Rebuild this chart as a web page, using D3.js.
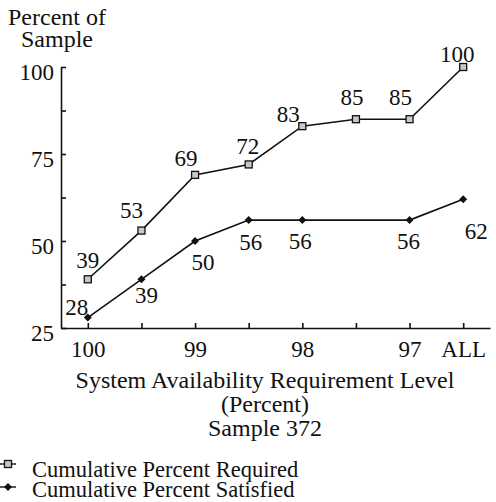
<!DOCTYPE html>
<html>
<head>
<meta charset="utf-8">
<style>
  body { margin: 0; background: #fff; }
  svg text { font-family: "Liberation Serif", "DejaVu Serif", "Noto Serif", serif; font-size: 23px; fill: #111; }
  svg text.title { font-size: 24px; }
  svg text.legend { font-size: 22.5px; }
  .axis path, .axis line { stroke: #111; stroke-width: 1.6px; }
</style>
</head>
<body>
<div id="chart-area"></div>

<script src="https://cdn.jsdelivr.net/npm/d3@7"></script>
<script>
    // data
    const categories = ["100", "", "99", "", "98", "", "97", "ALL"];
    const required = [39, 53, 69, 72, 83, 85, 85, 100];
    const satisfied = [28, 39, 50, 56, 56, null, 56, 62];
    const yTicks = [25, 37.5, 50, 62.5, 75, 87.5, 100];
    const seriesNames = ["Cumulative Percent Required", "Cumulative Percent Satisfied"];
    const titleLines = ["System Availability Requirement Level", "(Percent)", "Sample 372"];

    // where each value label sits relative to its point
    const reqLabelPos = [[0, -11], [-10, -13], [-9, -9], [-1, -10], [-14, -4], [-4, -14], [-9, -14], [-6, -5]];
    const satLabelPos = [[-11, -3], [5, 24], [8, 29], [2, 30], [-2, 29], null, [-1, 29], [13, 40]];

    const width = 496;
    const height = 502;

    const svg = d3.select("#chart-area")
        .append("svg")
            .attr("width", width)
            .attr("height", height);

    const x = d3.scalePoint()
        .domain(d3.range(categories.length))
        .range([61, 490])
        .padding(0.5);

    const y = d3.scaleLinear()
        .domain([25, 100])
        .range([328, 67]);

    // axes, ticks pointing inward
    svg.append("g")
        .attr("class", "axis")
        .attr("transform", `translate(0, ${y(25)})`)
        .call(d3.axisBottom(x)
            .tickSizeInner(-5)
            .tickSizeOuter(0)
            .tickPadding(13)
            .tickFormat(i => categories[i]));

    svg.append("g")
        .attr("class", "axis")
        .attr("transform", `translate(61, 0)`)
        .call(d3.axisLeft(y)
            .tickValues(yTicks)
            .tickSizeInner(-5)
            .tickSizeOuter(0)
            .tickPadding(7)
            .tickFormat(d => d % 25 === 0 ? d : ""))
        .call(g => g.selectAll("text").attr("dy", "0.55em"));

    svg.selectAll(".axis").attr("font-family", null).attr("font-size", null);

    // y axis title
    svg.append("text").attr("class", "title").attr("x", 57).attr("y", 25).attr("text-anchor", "middle").text("Percent of");
    svg.append("text").attr("class", "title").attr("x", 57).attr("y", 47).attr("text-anchor", "middle").text("Sample");

    // x axis title
    svg.selectAll(".xtitle")
        .data(titleLines)
        .enter().append("text")
            .attr("class", "title")
            .attr("x", 265)
            .attr("y", (d, i) => 388 + i * 24)
            .attr("text-anchor", "middle")
            .text(d => d);

    const line = d3.line()
        .x(p => x(p[0]))
        .y(p => y(p[1]));

    const reqPts = required.map((d, i) => [i, d]);
    const satPts = satisfied.map((d, i) => [i, d]).filter(p => p[1] != null);

    function square(g, cx, cy) {
        g.append("rect")
            .attr("x", cx - 3.5).attr("y", cy - 3.5)
            .attr("width", 7).attr("height", 7)
            .attr("fill", "#c8c8c8").attr("stroke", "#111").attr("stroke-width", 1.3);
    }

    function diamond(g, cx, cy) {
        g.append("path")
            .attr("d", `M${cx},${cy - 4}L${cx + 4},${cy}L${cx},${cy + 4}L${cx - 4},${cy}Z`)
            .attr("fill", "#111");
    }

    // lines (satisfied has no point at the gap, runs straight through)
    svg.append("path")
        .attr("d", line(reqPts))
        .attr("fill", "none").attr("stroke", "#111").attr("stroke-width", 1.6);

    svg.append("path")
        .attr("d", line(satPts))
        .attr("fill", "none").attr("stroke", "#111").attr("stroke-width", 1.6);

    const marks = svg.append("g");
    reqPts.forEach(p => square(marks, x(p[0]), y(p[1])));
    satPts.forEach(p => diamond(marks, x(p[0]), y(p[1])));

    // value labels
    svg.selectAll(".req-label")
        .data(reqPts)
        .enter().append("text")
            .attr("text-anchor", "middle")
            .attr("x", p => x(p[0]) + reqLabelPos[p[0]][0])
            .attr("y", p => y(p[1]) + reqLabelPos[p[0]][1])
            .text(p => p[1]);

    svg.selectAll(".sat-label")
        .data(satPts)
        .enter().append("text")
            .attr("text-anchor", "middle")
            .attr("x", p => x(p[0]) + satLabelPos[p[0]][0])
            .attr("y", p => y(p[1]) + satLabelPos[p[0]][1])
            .text(p => p[1]);

    // legend
    const legend = svg.append("g");
    seriesNames.forEach((name, i) => {
        const ly = 464 + i * 23;
        legend.append("line")
            .attr("x1", 0).attr("x2", 16).attr("y1", ly).attr("y2", ly)
            .attr("stroke", "#111").attr("stroke-width", 1.4);
        if (i === 0) square(legend, 8, ly); else diamond(legend, 8, ly);
        legend.append("text")
            .attr("class", "legend")
            .attr("x", 32).attr("y", 477 + i * 20)
            .text(name);
    });
</script>
</body>
</html>
